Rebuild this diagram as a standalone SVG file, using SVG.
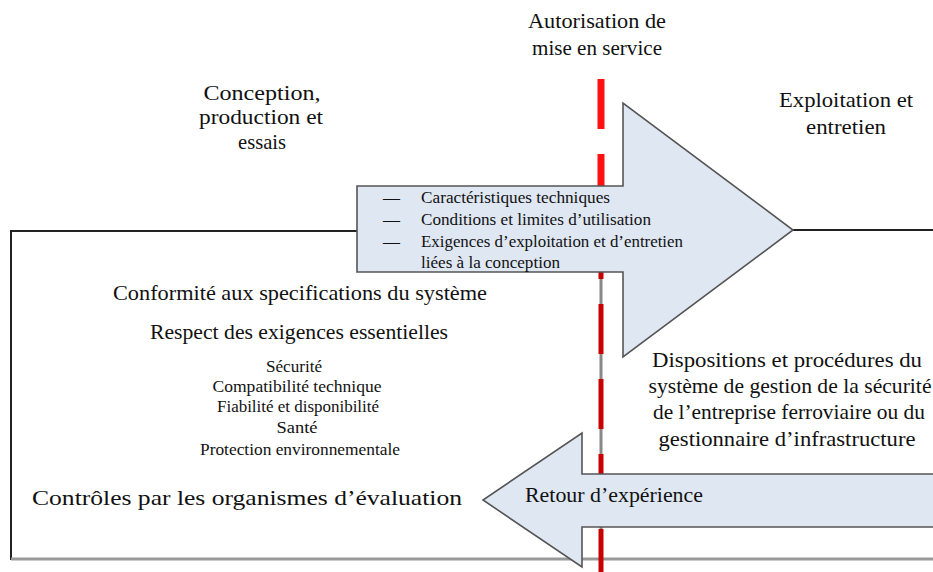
<svg xmlns="http://www.w3.org/2000/svg" width="933" height="572" viewBox="0 0 933 572">
<style>
text{font-family:"Liberation Serif","DejaVu Serif",serif;fill:#111}
.big{font-size:21px;text-anchor:middle}
.sm{font-size:16px;text-anchor:middle}
.li{font-size:16px}
.arrow{fill:#dfe7f3;stroke:#555;stroke-width:1.6;stroke-linejoin:miter}
.frame{stroke:#222;stroke-width:2;fill:none}
</style>
<rect width="933" height="572" fill="#fff"/>
<g id="connectors">
  <line class="frame" x1="11" y1="231" x2="357" y2="231"/>
  <line class="frame" x1="11" y1="230" x2="11" y2="560"/>
  <line class="frame" x1="793" y1="230" x2="933" y2="230"/>
  <line x1="11" y1="559" x2="933" y2="559" stroke="#999" stroke-width="3"/>
  <line x1="601" y1="272" x2="601" y2="572" stroke="#888" stroke-width="3"/>
  <line x1="601" y1="79" x2="601" y2="230" stroke="#ff1010" stroke-width="7" stroke-dasharray="50 25"/>
  <line x1="601" y1="229" x2="601" y2="579" stroke="#c80000" stroke-width="5" stroke-dasharray="50 25"/>
</g>
<g id="label-autorisation">
  <text class="big" x="597" y="28" textLength="138" lengthAdjust="spacingAndGlyphs">Autorisation de</text>
  <text class="big" x="597" y="55" textLength="130" lengthAdjust="spacingAndGlyphs">mise en service</text>
</g>
<g id="label-conception">
  <text class="big" x="262" y="100" textLength="117" lengthAdjust="spacingAndGlyphs">Conception,</text>
  <text class="big" x="261" y="124" textLength="124" lengthAdjust="spacingAndGlyphs">production et</text>
  <text class="big" x="262" y="149" textLength="48" lengthAdjust="spacingAndGlyphs">essais</text>
</g>
<g id="label-exploitation">
  <text class="big" x="846" y="107" textLength="134" lengthAdjust="spacingAndGlyphs">Exploitation et</text>
  <text class="big" x="846" y="134" textLength="80" lengthAdjust="spacingAndGlyphs">entretien</text>
</g>
<g id="arrow-forward">
  <path class="arrow" d="M357,186 L623,186 L623,103 L793,230 L623,357 L623,272 L357,272 Z"/>
  <text class="li" x="383" y="203" textLength="17" lengthAdjust="spacingAndGlyphs">—</text>
  <text class="li" x="421" y="203" textLength="189" lengthAdjust="spacingAndGlyphs">Caractéristiques techniques</text>
  <text class="li" x="383" y="225" textLength="17" lengthAdjust="spacingAndGlyphs">—</text>
  <text class="li" x="421" y="225" textLength="230" lengthAdjust="spacingAndGlyphs">Conditions et limites d’utilisation</text>
  <text class="li" x="383" y="247" textLength="17" lengthAdjust="spacingAndGlyphs">—</text>
  <text class="li" x="421" y="247" textLength="262" lengthAdjust="spacingAndGlyphs">Exigences d’exploitation et d’entretien</text>
  <text class="li" x="421" y="268" textLength="139" lengthAdjust="spacingAndGlyphs">liées à la conception</text>
</g>
<g id="arrow-retour">
  <path class="arrow" d="M940,474 L582,474 L582,433 L483,500 L582,567 L582,527 L940,527 Z"/>
  <text class="big" x="614" y="502" textLength="178" lengthAdjust="spacingAndGlyphs">Retour d’expérience</text>
</g>
<g id="label-conformite">
  <text class="big" x="300" y="300" textLength="374" lengthAdjust="spacingAndGlyphs">Conformité aux specifications du système</text>
  <text class="big" x="299" y="339" textLength="298" lengthAdjust="spacingAndGlyphs">Respect des exigences essentielles</text>
  <text class="sm" x="294" y="372" textLength="56" lengthAdjust="spacingAndGlyphs">Sécurité</text>
  <text class="sm" x="297" y="392" textLength="169" lengthAdjust="spacingAndGlyphs">Compatibilité technique</text>
  <text class="sm" x="298" y="412" textLength="162" lengthAdjust="spacingAndGlyphs">Fiabilité et disponibilité</text>
  <text class="sm" x="297" y="433" textLength="41" lengthAdjust="spacingAndGlyphs">Santé</text>
  <text class="sm" x="300" y="455" textLength="200" lengthAdjust="spacingAndGlyphs">Protection environnementale</text>
</g>
<g id="label-controles">
  <text class="big" x="247" y="505" textLength="430" lengthAdjust="spacingAndGlyphs">Contrôles par les organismes d’évaluation</text>
</g>
<g id="label-dispositions">
  <text class="big" x="787" y="367" textLength="270" lengthAdjust="spacingAndGlyphs">Dispositions et procédures du</text>
  <text class="big" x="790" y="393" textLength="283" lengthAdjust="spacingAndGlyphs">système de gestion de la sécurité</text>
  <text class="big" x="789" y="419" textLength="272" lengthAdjust="spacingAndGlyphs">de l’entreprise ferroviaire ou du</text>
  <text class="big" x="787" y="446" textLength="257" lengthAdjust="spacingAndGlyphs">gestionnaire d’infrastructure</text>
</g>
</svg>
